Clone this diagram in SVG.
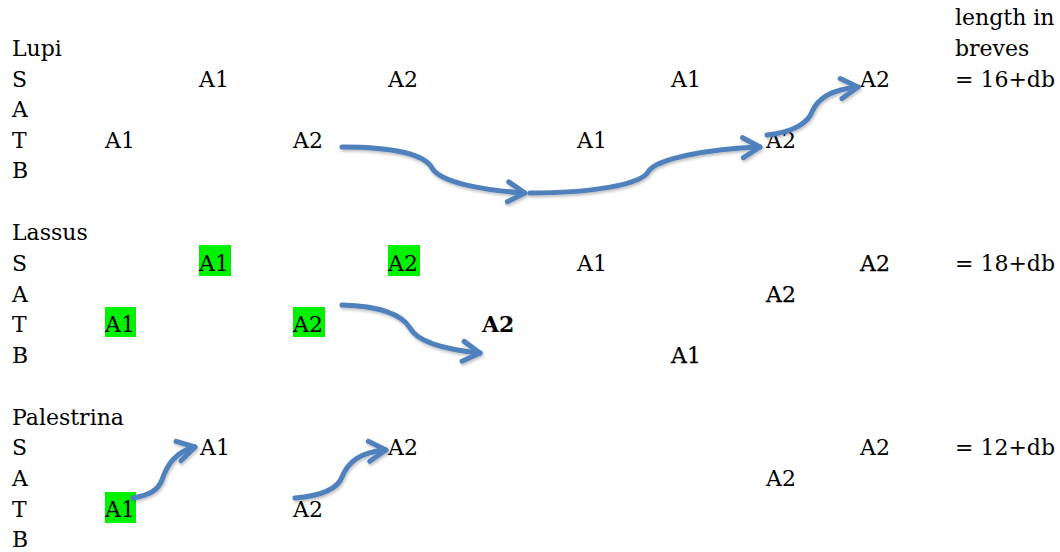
<svg xmlns="http://www.w3.org/2000/svg" width="1060" height="552" viewBox="0 0 1060 552">
  <style>
    text { font-family: "DejaVu Serif", "Liberation Serif", serif; font-size: 22px; fill: #000; }
    .b { font-weight: bold; }
    .m { stroke: #000; stroke-width: 0.25px; }
    .hl { fill: #00f200; }
    .arrow { fill: none; stroke: #4f81bd; stroke-width: 5; stroke-linecap: round; stroke-linejoin: round; marker-end: url(#chev); filter: url(#shadow); }
  </style>
  <defs>
    <marker id="chev" markerUnits="userSpaceOnUse" viewBox="-24 -16 30 32" markerWidth="30" markerHeight="32" refX="0" refY="0" orient="auto">
      <path d="M-17,-10 L0,0 L-17,10" fill="none" stroke="#4f81bd" stroke-width="5" stroke-linecap="round" stroke-linejoin="round"/>
    </marker>
    <filter id="shadow" x="-20%" y="-30%" width="140%" height="160%">
      <feDropShadow dx="1" dy="2" stdDeviation="1.5" flood-color="#000" flood-opacity="0.25"/>
    </filter>
  </defs>

  <rect width="1060" height="552" fill="#fff"/>

  <!-- header column -->
  <g id="header">
    <text x="955" y="25">length in</text>
    <text x="955" y="56">breves</text>
  </g>

  <!-- Lupi -->
  <g id="lupi">
    <text x="12" y="56">Lupi</text>
    <text x="12" y="87">S</text>
    <text x="12" y="117">A</text>
    <text x="12" y="148">T</text>
    <text x="12" y="178">B</text>
    <text x="199" y="87">A1</text>
    <text x="388" y="87">A2</text>
    <text x="671" y="87">A1</text>
    <text x="860" y="87">A2</text>
    <text x="955" y="87">= 16+db</text>
    <text x="105" y="148">A1</text>
    <text x="293" y="148">A2</text>
    <text x="577" y="148">A1</text>
    <text x="766" y="148">A2</text>
  </g>

  <!-- Lassus -->
  <g id="lassus">
    <rect class="hl" x="199" y="245" width="32" height="31"/>
    <rect class="hl" x="388" y="245" width="32" height="31"/>
    <rect class="hl" x="105" y="307" width="31" height="30"/>
    <rect class="hl" x="293" y="307" width="32" height="30"/>
    <text x="12" y="240">Lassus</text>
    <text x="12" y="271">S</text>
    <text x="12" y="302">A</text>
    <text x="12" y="332">T</text>
    <text x="12" y="363">B</text>
    <text x="199" y="271">A1</text>
    <text x="388" y="271">A2</text>
    <text x="577" y="271">A1</text>
    <text class="m" x="860" y="271">A2</text>
    <text x="955" y="271">= 18+db</text>
    <text class="m" x="766" y="302">A2</text>
    <text x="105" y="332">A1</text>
    <text x="293" y="332">A2</text>
    <text class="b" x="482" y="332">A2</text>
    <text class="m" x="671" y="363">A1</text>
  </g>

  <!-- Palestrina -->
  <g id="palestrina">
    <rect class="hl" x="105" y="492" width="31" height="31"/>
    <text x="12" y="425">Palestrina</text>
    <text x="12" y="455">S</text>
    <text x="12" y="486">A</text>
    <text x="12" y="517">T</text>
    <text x="12" y="547">B</text>
    <text x="200" y="455">A1</text>
    <text x="388" y="455">A2</text>
    <text x="860" y="455">A2</text>
    <text x="955" y="455">= 12+db</text>
    <text x="766" y="486">A2</text>
    <text x="105" y="517">A1</text>
    <text x="293" y="517">A2</text>
  </g>

  <!-- connectors -->
  <g id="connectors">
    <path class="arrow" d="M342,147 C395,147 425,155 432,168 C440,182 480,190 525,193"/>
    <path class="arrow" d="M530,193 C590,193 640,185 648,172 C656,158 710,149 760,147"/>
    <path class="arrow" d="M767,135 C795,132 808,122 812,112 C818,97 835,89 858,87"/>
    <path class="arrow" d="M342,305 C380,306 402,315 410,328 C418,343 450,350 480,353"/>
    <path class="arrow" d="M133,498 C150,495 158,490 162,480 C167,465 175,452 195,447"/>
    <path class="arrow" d="M295,498 C320,496 337,490 342,477 C348,462 360,452 386,450"/>
  </g>
</svg>
